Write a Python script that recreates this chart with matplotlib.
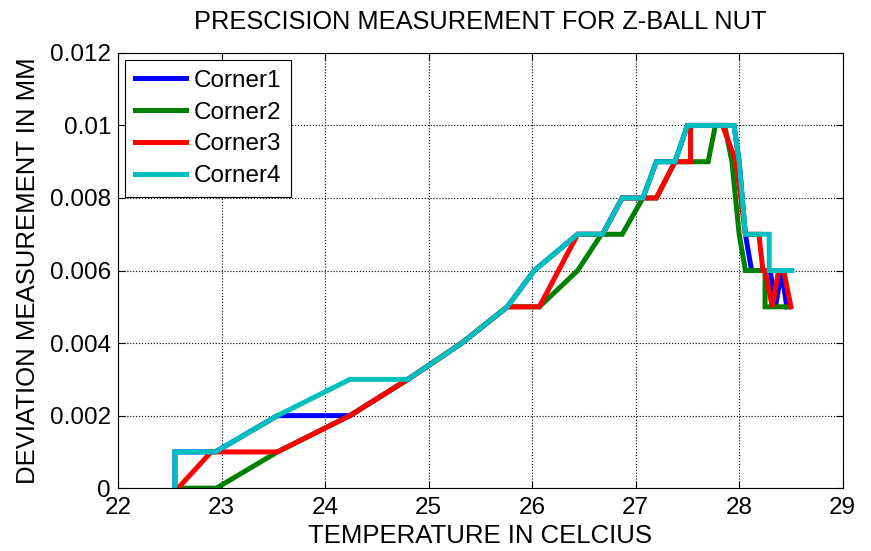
import numpy as np
import matplotlib.pyplot as plt
import matplotlib as mpl

mpl.rcParams.update({
    'font.family': ['Liberation Sans', 'DejaVu Sans'],
    'font.size': 18,
})

# data (temperature in C, deviation in mm)
t1 = [22.55, 22.55, 22.94, 23.54, 24.24, 24.8, 25.32, 25.76, 26.02, 26.44,
      26.68, 26.87, 27.07, 27.2, 27.38, 27.5, 27.95, 28.0, 28.06, 28.12,
      28.3, 28.35, 28.41, 28.46]
d1 = [0, 0.001, 0.001, 0.002, 0.002, 0.003, 0.004, 0.005, 0.006, 0.007,
      0.007, 0.008, 0.008, 0.009, 0.009, 0.010, 0.010, 0.009, 0.007, 0.006,
      0.006, 0.005, 0.006, 0.005]

t2 = [22.58, 22.95, 23.54, 24.24, 24.8, 25.32, 25.76, 26.07, 26.44, 26.67,
      26.87, 27.07, 27.2, 27.38, 27.7, 27.77, 27.86, 27.93, 28.0, 28.06,
      28.25, 28.25, 28.48]
d2 = [0, 0, 0.001, 0.002, 0.003, 0.004, 0.005, 0.005, 0.006, 0.007,
      0.007, 0.008, 0.008, 0.009, 0.009, 0.010, 0.010, 0.009, 0.007, 0.006,
      0.006, 0.005, 0.005]

t3 = [22.58, 22.9, 23.54, 24.24, 24.8, 25.32, 25.76, 26.07, 26.44, 26.68,
      26.87, 27.07, 27.2, 27.38, 27.53, 27.53, 27.84, 27.97, 28.06, 28.19,
      28.23, 28.25, 28.32, 28.38, 28.43, 28.5]
d3 = [0, 0.001, 0.001, 0.002, 0.003, 0.004, 0.005, 0.005, 0.007, 0.007,
      0.008, 0.008, 0.008, 0.009, 0.009, 0.010, 0.010, 0.009, 0.007, 0.007,
      0.006, 0.006, 0.005, 0.006, 0.006, 0.005]

t4 = [22.55, 22.55, 22.94, 23.54, 24.24, 24.8, 25.32, 25.76, 26.02, 26.44,
      26.68, 26.87, 27.07, 27.2, 27.38, 27.5, 27.95, 28.0, 28.06, 28.29,
      28.29, 28.51]
d4 = [0, 0.001, 0.001, 0.002, 0.003, 0.003, 0.004, 0.005, 0.006, 0.007,
      0.007, 0.008, 0.008, 0.009, 0.009, 0.010, 0.010, 0.009, 0.007, 0.007,
      0.006, 0.006]

labels = ['Corner1', 'Corner2', 'Corner3', 'Corner4']
colors = ['#0000ff', '#008000', '#ff0000', '#00bfbf']

fig = plt.figure(figsize=(8.71, 5.51), dpi=100)
ax = fig.add_axes([0.1355, 0.114, 0.832, 0.790])

for t, d, c, lb in zip([t1, t2, t3, t4], [d1, d2, d3, d4], colors, labels):
    ax.plot(t, d, color=c, lw=3.6, label=lb, solid_joinstyle='miter')

ax.set_xlim(22, 29)
ax.set_ylim(0, 0.012)
ax.set_xticks(np.arange(22, 30, 1))
ax.set_yticks([0, 0.002, 0.004, 0.006, 0.008, 0.01, 0.012])
ax.set_yticklabels(['0', '0.002', '0.004', '0.006', '0.008', '0.01', '0.012'])
ax.tick_params(direction='in', length=5, width=0.8, labelsize=17.5, top=True, right=True)
ax.tick_params(axis='x', pad=6)
ax.tick_params(axis='y', pad=5)
ax.grid(True, color='black', linestyle=':', linewidth=0.8)
for s in ax.spines.values():
    s.set_linewidth(0.8)

ax.set_title('PRESCISION MEASUREMENT FOR Z-BALL NUT', fontsize=18.3, pad=17)
ax.set_xlabel('TEMPERATURE IN CELCIUS', fontsize=18.5, labelpad=4)
ax.set_ylabel('DEVIATION MEASUREMENT IN MM', fontsize=18.5, labelpad=7)

leg = ax.legend(loc='upper left', fontsize=17.5, handlelength=2.1, handletextpad=0.3,
                borderaxespad=0.3, borderpad=0.4,
                fancybox=False, edgecolor='black', framealpha=1, labelspacing=0.4)
leg.get_frame().set_linewidth(0.8)

fig.savefig('out.png', dpi=100)
